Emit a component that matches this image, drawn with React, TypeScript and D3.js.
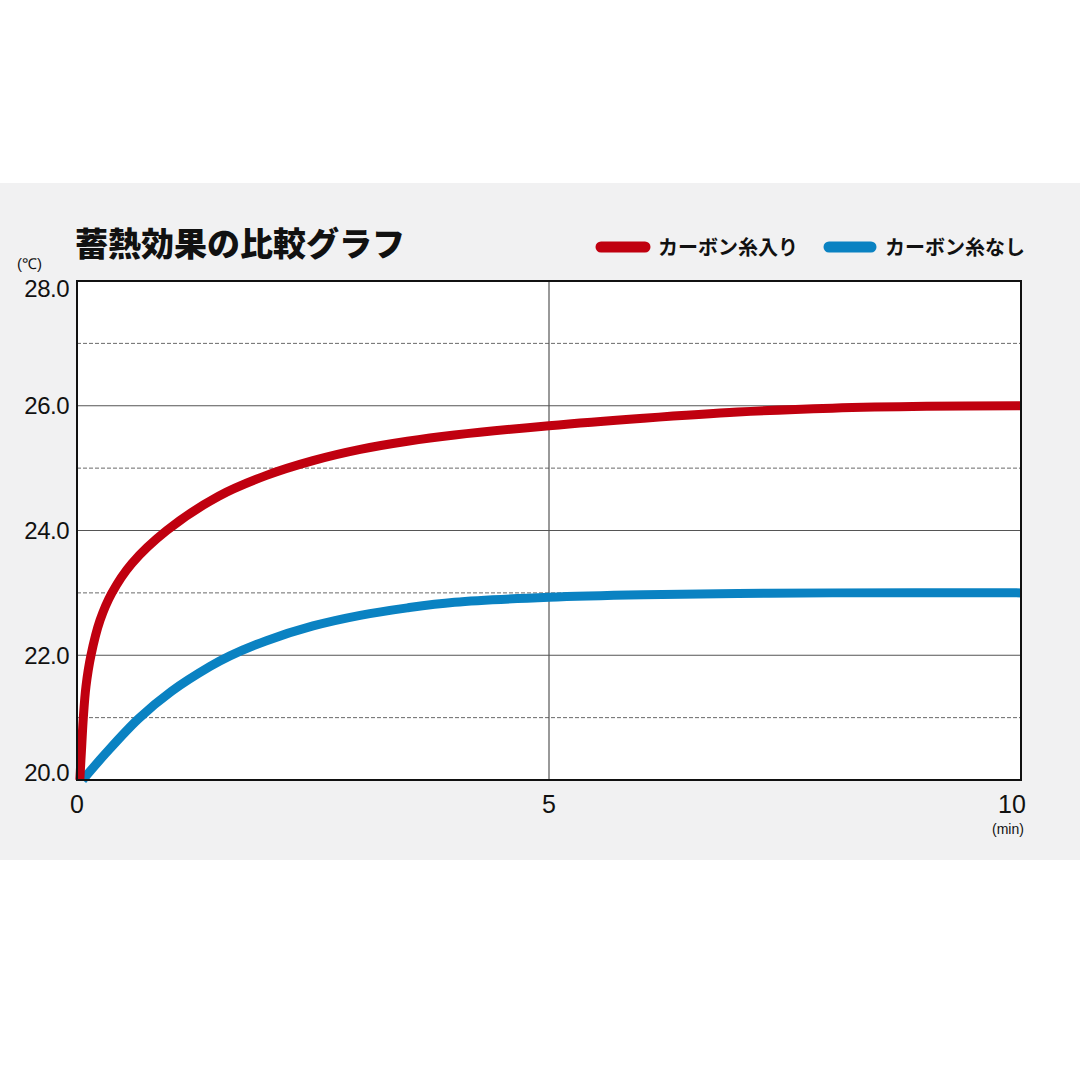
import React from "react";
import * as d3 from "d3";

const redT = [0.03, 0.05, 0.067, 0.095, 0.148, 0.244, 0.37, 0.58, 0.95, 1.5, 2, 2.5, 3, 3.5, 4, 5, 6, 7, 8, 9, 10];
const redV = [20.0, 20.55, 21.0, 21.5, 22.0, 22.56, 23.0, 23.47, 24.0, 24.55, 24.88, 25.12, 25.3, 25.43, 25.53, 25.68, 25.8, 25.9, 25.96, 25.99, 26.0];
const blueT = [0.06, 0.3, 0.65, 1, 1.41, 1.62, 2, 2.5, 3, 3.5, 4, 5, 6, 7, 8, 10];
const blueV = [20.0, 20.42, 20.98, 21.42, 21.82, 21.99, 22.23, 22.47, 22.64, 22.76, 22.85, 22.93, 22.97, 22.99, 23.0, 23.0];
const yTicks = [20, 22, 24, 26, 28];
const yMinor = [21, 23, 25, 27];
const xTicks = [0, 5, 10];
const seriesNames = ["カーボン糸入り", "カーボン糸なし"];
const title = "蓄熱効果の比較グラフ";

export default function App() {
  const L = 77, R = 1021, T = 281, B = 780;
  const x = d3.scaleLinear().domain([0, 10]).range([L, R]);
  const y = d3.scaleLinear().domain([20, 28]).range([B, T]);
  const line = d3
    .line<[number, number]>()
    .x((d) => x(d[0]))
    .y((d) => y(d[1]))
    .curve(d3.curveCatmullRom.alpha(0.5));
  const red = redT.map((t, i) => [t, redV[i]] as [number, number]);
  const blue = blueT.map((t, i) => [t, blueV[i]] as [number, number]);
  const font = "'Liberation Sans', Arial, sans-serif";
  const jp = "'Noto Sans CJK JP', sans-serif";
  const RED = "#c0000f";
  const BLUE = "#0a82c2";
  const yBase = (v: number) => (v === 28 ? y(v) + 16 : v === 20 ? y(v) + 1 : y(v) + 8.5);
  return (
    <svg width={1080} height={1080} style={{ position: "absolute", left: 0, top: 0 }}>
      <rect x={0} y={0} width={1080} height={1080} fill="#ffffff" />
      <rect x={0} y={183} width={1080} height={677} fill="#f1f1f2" />
      <text x={75} y={256} fontFamily={jp} fontWeight={900} fontSize={33} fill="#111">
        {title}
      </text>
      {/* legend */}
      <line x1={601} x2={645} y1={247} y2={247} stroke={RED} strokeWidth={11} strokeLinecap="round" />
      <text x={658} y={255} fontFamily={jp} fontWeight={700} fontSize={20} fill="#111">
        {seriesNames[0]}
      </text>
      <line x1={829} x2={871} y1={247} y2={247} stroke={BLUE} strokeWidth={11} strokeLinecap="round" />
      <text x={885} y={255} fontFamily={jp} fontWeight={700} fontSize={20} fill="#111">
        {seriesNames[1]}
      </text>
      {/* plot */}
      <rect x={L} y={T} width={R - L} height={B - T} fill="#ffffff" />
      {yMinor.map((v) => (
        <line key={"m" + v} x1={L} x2={R} y1={y(v)} y2={y(v)} stroke="#6a6a6a" strokeWidth={1} strokeDasharray="4,2" />
      ))}
      {yTicks.slice(1, -1).map((v) => (
        <line key={"g" + v} x1={L} x2={R} y1={y(v)} y2={y(v)} stroke="#555" strokeWidth={1.2} />
      ))}
      <line x1={x(5)} x2={x(5)} y1={T} y2={B} stroke="#555" strokeWidth={1.2} />
      <path d={line(blue) || ""} fill="none" stroke={BLUE} strokeWidth={9} strokeLinecap="butt" />
      <path d={line(red) || ""} fill="none" stroke={RED} strokeWidth={9} strokeLinecap="butt" />
      <rect x={L} y={T} width={R - L} height={B - T} fill="none" stroke="#111" strokeWidth={2} />
      {yTicks.map((v) => (
        <text key={"yt" + v} x={69} y={yBase(v)} textAnchor="end" fontFamily={font} fontSize={24} fill="#111" letterSpacing={-0.5}>
          {v.toFixed(1)}
        </text>
      ))}
      <text x={17} y={269} fontFamily={font} fontSize={15} fill="#111">
        (℃)
      </text>
      {xTicks.map((v) => (
        <text key={"xt" + v} x={v === 10 ? x(v) - 9 : x(v)} y={813} textAnchor="middle" fontFamily={font} fontSize={25} fill="#111">
          {v}
        </text>
      ))}
      <text x={1008} y={834} textAnchor="middle" fontFamily={font} fontSize={14} fill="#111">
        (min)
      </text>
    </svg>
  );
}
